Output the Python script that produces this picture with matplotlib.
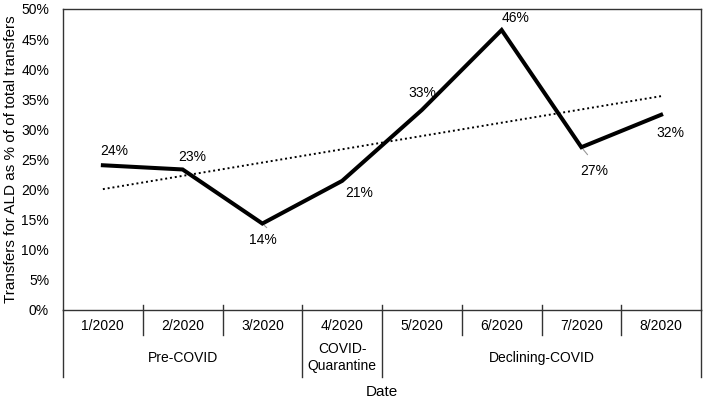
import numpy as np
import matplotlib
matplotlib.use('Agg')
import matplotlib.pyplot as plt

# Data
months = ['1/2020', '2/2020', '3/2020', '4/2020', '5/2020', '6/2020', '7/2020', '8/2020']
alt_share = [24.0, 23.3, 14.3, 21.4, 33.2, 46.5, 27.0, 32.4]
labels = ['24%', '23%', '14%', '21%', '33%', '46%', '27%', '32%']
# label offsets in points (dx, dy)
label_offsets = [(8, 10), (7, 9), (0, -12), (12, -9), (0, 12), (10, 9), (9, -17), (7, -13)]
groups = ['Pre-COVID', 'COVID-\nQuarantine', 'Declining-COVID']
group_spans = [(1, 3), (4, 4), (5, 8)]

plt.rcParams['font.family'] = ['Liberation Sans', 'DejaVu Sans']
plt.rcParams['font.size'] = 10

fig = plt.figure(figsize=(7.09, 4.04), dpi=100)
ax = fig.add_axes([63 / 709, (404 - 309.5) / 404, 638 / 709, 300.5 / 404])

x = np.arange(1, len(months) + 1)
y = np.array(alt_share)

# Main series
ax.plot(x, y, color='black', linewidth=2.9, solid_joinstyle='miter')

# Linear trendline
slope, intercept = np.polyfit(x, y, 1)
ax.plot(x, slope * x + intercept, color='black', linestyle=(0, (1, 1.5)), linewidth=1.4)

# Data labels
for xi, yi, lab, (dx, dy) in zip(x, y, labels, label_offsets):
    ax.annotate(lab, (xi, yi), xytext=(dx, dy), textcoords='offset points',
                ha='center', va='center', fontsize=10)

# gray leader lines for 14% and 27%
ax.annotate('', (3, 14.3), xytext=(3.08, 13.3),
            arrowprops=dict(arrowstyle='-', color='#999999', lw=0.8))
ax.annotate('', (7, 27.0), xytext=(7.1, 25.4),
            arrowprops=dict(arrowstyle='-', color='#999999', lw=0.8))

ax.set_xlim(0.5, len(months) + 0.5)
ax.set_ylim(0, 50)
ax.set_yticks(np.arange(0, 51, 5))
ax.set_yticklabels([f'{v}%' for v in range(0, 51, 5)])
ax.tick_params(axis='y', length=0, pad=10, labelsize=10)
ax.set_xticks([])

for side in ['top', 'right', 'left', 'bottom']:
    ax.spines[side].set_color('#333333')
    ax.spines[side].set_linewidth(1.0)

# Multi-level category axis
trans = ax.get_xaxis_transform()
line_kw = dict(color='#333333', linewidth=1.0, transform=trans, clip_on=False)
for i in range(1, len(months)):
    xb = i + 0.5
    if xb in (3.5, 4.5):
        ax.plot([xb, xb], [0.015, -0.225], **line_kw)
    else:
        ax.plot([xb, xb], [0.015, -0.085], **line_kw)
ax.plot([0.5, 0.5], [0, -0.225], **line_kw)
ax.plot([8.5, 8.5], [0, -0.225], **line_kw)

for xi, m in zip(x, months):
    ax.text(xi, -0.055, m, transform=trans, ha='center', va='center', fontsize=10)

for g, (a, b) in zip(groups, group_spans):
    ax.text((a + b) / 2, -0.16, g, transform=trans, ha='center', va='center',
            fontsize=10, linespacing=1.2)

ax.text(4.5, -0.275, 'Date', transform=trans, ha='center', va='center', fontsize=11)
ax.set_ylabel('Transfers for ALD as % of of total transfers', fontsize=11, labelpad=2)

fig.savefig('out.png', dpi=100, facecolor='white')
